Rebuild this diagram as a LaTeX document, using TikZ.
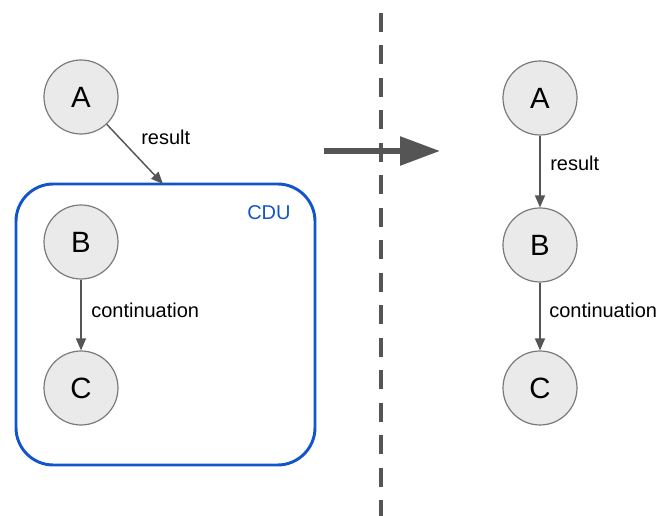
\documentclass[tikz,border=0pt]{standalone}
\usepackage{fontspec}
\setmainfont{Liberation Sans}
\usetikzlibrary{arrows.meta}
\definecolor{cdublue}{HTML}{1155CC}
\definecolor{nodefill}{HTML}{EAEAEA}
\definecolor{nodeline}{HTML}{7A7A7A}
\definecolor{arrowgray}{HTML}{555555}

\begin{document}
\begin{tikzpicture}[x=0.75pt, y=-0.75pt, >=Stealth,
    task/.style={circle, draw=nodeline, fill=nodefill, line width=0.9pt, minimum size=55.5pt, inner sep=0pt, font=\fontsize{22}{26}\selectfont},
    lbl/.style={font=\fontsize{15}{18}\selectfont, anchor=west, inner sep=0pt},
    flow/.style={arrowgray, line width=1.1pt, -{Triangle[length=9pt, width=7.5pt]}}]
    \useasboundingbox (0,0) rectangle (658,516);

    % Before: B and C inside one CDU
    \node [draw=cdublue, line width=2.2pt, rounded corners=28pt, minimum width=224.25pt, minimum height=210.75pt] (cdubox) at (165.5,324.5) {};
    \node [lbl, text=cdublue] (cdu) at (247,213) {CDU};
    \node [task] (a1) at (81,97) {A};
    \node [task] (b1) at (81,242) {B};
    \node [task] (c1) at (81,388) {C};
    \coordinate (cdutop) at (163,184);
    \draw [flow] (a1) -- (cdutop);
    \node [lbl] (res1) at (141,137) {result};
    \draw [flow] (b1) -- (c1);
    \node [lbl] (cont1) at (91,310) {continuation};

    % Separator
    \draw [arrowgray, line width=3pt, dash pattern=on 14.25pt off 10.1pt] (381,13) -- (381,516);

    % Transformation arrow
    \draw [arrowgray, line width=4.2pt, -{Triangle[length=30pt, width=21pt]}] (324,151) -- (440,151);

    % After: plain chain
    \node [task] (a2) at (540,98) {A};
    \node [task] (b2) at (540,245) {B};
    \node [task] (c2) at (540,388) {C};
    \draw [flow] (a2) -- (b2);
    \node [lbl] (res2) at (550,163) {result};
    \draw [flow] (b2) -- (c2);
    \node [lbl] (cont2) at (549,310) {continuation};
\end{tikzpicture}
\end{document}
